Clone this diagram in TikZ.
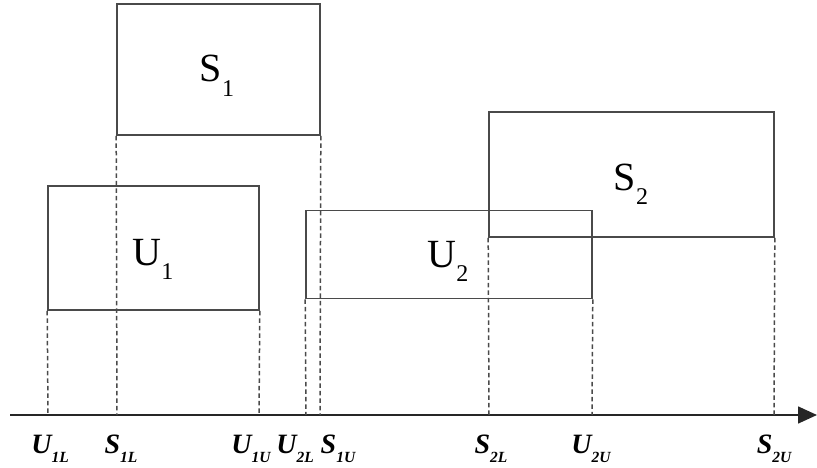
\documentclass[tikz,border=0pt]{standalone}
\usepackage{fontspec}
\setmainfont{Liberation Serif}
\usetikzlibrary{arrows.meta}
\definecolor{ln}{HTML}{4A4A4A}
\newcommand{\boxlab}[2]{{\fontsize{40}{40}\selectfont #1\raisebox{-0.36em}{\fontsize{24}{24}\selectfont #2}}}
\newcommand{\axlab}[2]{{\fontsize{28}{28}\selectfont\bfseries\itshape #1\raisebox{-0.33em}{\fontsize{15.5}{15.5}\selectfont #2}}}
\tikzset{
  box/.style={draw=ln, line width=1.6pt, inner sep=0pt, fill=none},
  guide/.style={draw=ln, line width=1.5pt, dash pattern=on 4.5pt off 3pt},
  axlabel/.style={inner sep=0pt, anchor=base, text=black},
  boxlabel/.style={inner sep=0pt, anchor=base, text=black}
}
\begin{document}
\begin{tikzpicture}[x=1pt,y=-1pt]
\useasboundingbox (0,0) rectangle (817,468);
% boxes
\node[box, minimum width=203pt, minimum height=131pt] (S1) at (218.5,69.5) {};
\node[box, minimum width=211pt, minimum height=124pt] (U1) at (153.5,248) {};
\node[box, minimum width=286pt, minimum height=88pt] (U2) at (449,254.5) {};
\node[box, minimum width=285pt, minimum height=125pt] (S2) at (631.5,174.5) {};
% box labels
\node[boxlabel] (tS1) at (217,82) {\boxlab{S}{1}};
\node[boxlabel] (tU1) at (153,265) {\boxlab{U}{1}};
\node[boxlabel] (tU2) at (448,267) {\boxlab{U}{2}};
\node[boxlabel] (tS2) at (631,190) {\boxlab{S}{2}};
% axis
\coordinate (a0) at (10,415);
\coordinate (a1) at (817,415);
\draw[line width=1.6pt, -{Triangle[length=19pt,width=17pt]}, color=black!85] (a0) -- (a1);
% axis points
\coordinate (pU1L) at (48,415);
\coordinate (pS1L) at (117,415);
\coordinate (pU1U) at (259,415);
\coordinate (pU2L) at (306,415);
\coordinate (pS1U) at (320,415);
\coordinate (pS2L) at (489,415);
\coordinate (pU2U) at (592,415);
\coordinate (pS2U) at (774,415);
% guides
\draw[guide] (U1.south west) -- (pU1L);
\draw[guide] (S1.south west) -- (pS1L);
\draw[guide] (U1.south east) -- (pU1U);
\draw[guide] (U2.south west) -- (pU2L);
\draw[guide] (S1.south east) -- (pS1U);
\draw[guide] (S2.south west) -- (pS2L);
\draw[guide] (U2.south east) -- (pU2U);
\draw[guide] (S2.south east) -- (pS2U);
% axis labels
\node[axlabel] (lU1L) at (50,453) {\axlab{U}{1L}};
\node[axlabel] (lS1L) at (121,453) {\axlab{S}{1L}};
\node[axlabel] (lU1U) at (251,453) {\axlab{U}{1U}};
\node[axlabel] (lU2L) at (295,453) {\axlab{U}{2L}};
\node[axlabel] (lS1U) at (338,453) {\axlab{S}{1U}};
\node[axlabel] (lS2L) at (491,453) {\axlab{S}{2L}};
\node[axlabel] (lU2U) at (591,453) {\axlab{U}{2U}};
\node[axlabel] (lS2U) at (774,453) {\axlab{S}{2U}};
\end{tikzpicture}
\end{document}
